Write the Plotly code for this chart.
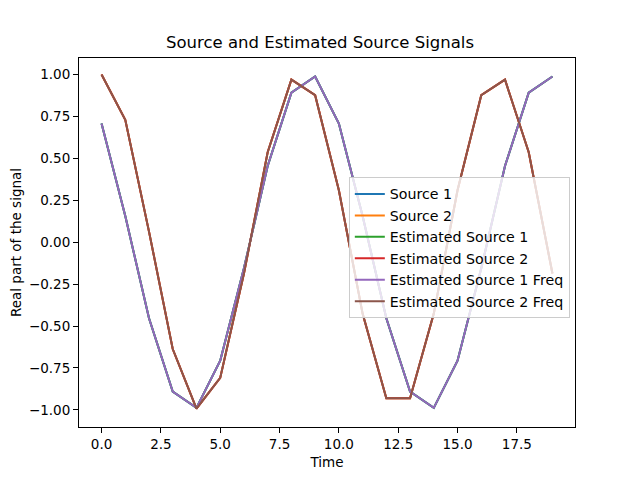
import plotly.graph_objects as go

# ================================
# Data
# ================================
time = list(range(20))

source_1 = [0.707, 0.156, -0.454, -0.891, -0.988, -0.707, -0.156, 0.454, 0.891, 0.988,
            0.707, 0.156, -0.454, -0.891, -0.988, -0.707, -0.156, 0.454, 0.891, 0.988]
source_2 = [1.0, 0.729, 0.063, -0.637, -0.992, -0.809, -0.187, 0.536, 0.969, 0.876,
            0.309, -0.426, -0.930, -0.930, -0.426, 0.309, 0.876, 0.969, 0.536, -0.187]

estimated_1 = source_1
estimated_2 = source_2
estimated_1_freq = source_1
estimated_2_freq = source_2

names = ["Source 1", "Source 2", "Estimated Source 1", "Estimated Source 2",
         "Estimated Source 1 Freq", "Estimated Source 2 Freq"]
series = [source_1, source_2, estimated_1, estimated_2, estimated_1_freq, estimated_2_freq]
colors = ["#1f77b4", "#ff7f0e", "#2ca02c", "#d62728", "#9467bd", "#8c564b"]

# ================================
# Figure
# ================================
fig = go.Figure()
for name, y, c in zip(names, series, colors):
    fig.add_trace(go.Scatter(x=time, y=y, mode="lines", name=name,
                             line=dict(color=c, width=2)))

axis_style = dict(
    showline=True, linecolor="black", linewidth=1, mirror=True,
    ticks="outside", ticklen=5, tickcolor="black", showgrid=False, zeroline=False,
    tickfont=dict(size=13.5, color="black"), automargin=False,
)

# page adds a small offset, so margins are shifted up/left to compensate
fig.update_layout(
    width=640, height=480,
    margin=dict(l=71, r=73, t=50, b=61),
    paper_bgcolor="white", plot_bgcolor="white",
    font=dict(family="DejaVu Sans", size=13.5, color="black"),
    title=dict(text="Source and Estimated Source Signals", x=0.4875, xanchor="center",
               y=0.917, yanchor="bottom", font=dict(size=16.5), automargin=False),
    xaxis=dict(axis_style, range=[-0.95, 19.95], tickvals=[0, 2.5, 5, 7.5, 10, 12.5, 15, 17.5],
               ticktext=["0.0", "2.5", "5.0", "7.5", "10.0", "12.5", "15.0", "17.5"],
               title=dict(text="Time", font=dict(size=13.5), standoff=6)),
    yaxis=dict(axis_style, range=[-1.102, 1.098],
               tickvals=[-1, -0.75, -0.5, -0.25, 0, 0.25, 0.5, 0.75, 1],
               ticktext=["\u22121.00", "\u22120.75", "\u22120.50", "\u22120.25", "0.00",
                         "0.25", "0.50", "0.75", "1.00"],
               title=dict(text="Real part of the signal", font=dict(size=13.5), standoff=6)),
    legend=dict(x=0.544, y=0.677, xanchor="left", yanchor="top",
                bgcolor="rgba(255,255,255,0.8)", bordercolor="#cccccc", borderwidth=1,
                font=dict(size=14.2), tracegroupgap=0),
    showlegend=True,
)

fig.write_html("out.html")
